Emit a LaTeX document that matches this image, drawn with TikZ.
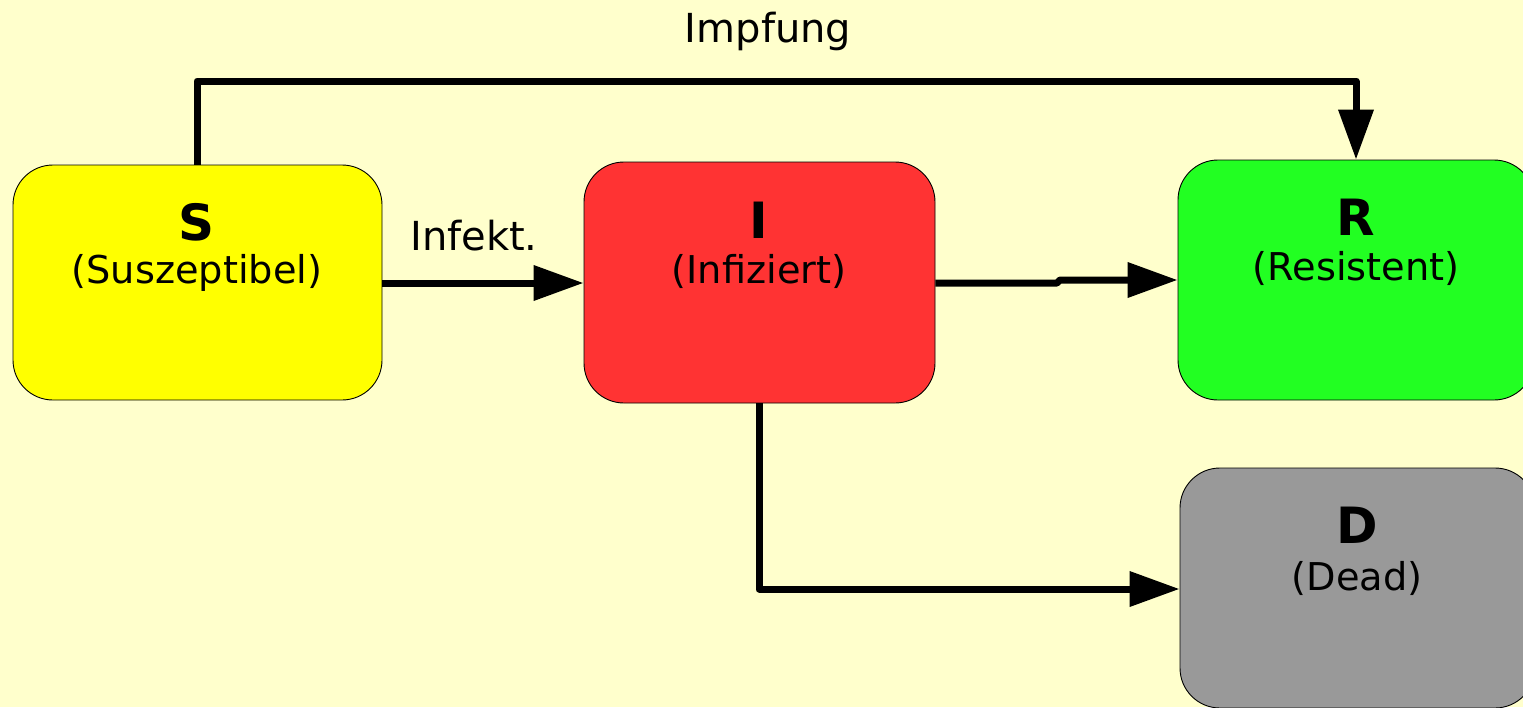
\documentclass[tikz,border=0pt]{standalone}
\usepackage{fontspec}
\setmainfont{DejaVu Sans}
\usetikzlibrary{arrows.meta,calc}
\definecolor{bg}{HTML}{FFFFCC}
\definecolor{sfill}{HTML}{FFFF00}
\definecolor{ifill}{HTML}{FF3333}
\definecolor{rfill}{HTML}{22FF22}
\definecolor{dfill}{HTML}{999999}
\tikzset{
  box/.style={draw=black, line width=0.9pt, rounded corners=40pt, inner sep=0pt},
  ttl/.style={inner sep=0pt, font=\fontsize{50}{58}\selectfont\bfseries},
  sub/.style={inner sep=0pt, font=\fontsize{38.3}{46}\selectfont},
  lbl/.style={inner sep=0pt, font=\fontsize{40}{48}\selectfont},
  conn/.style={line width=7pt, line join=round,
    -{Triangle[length=50pt,width=34pt]}},
}
\begin{document}
\begin{tikzpicture}[x=1pt,y=-1pt]
\useasboundingbox (0,0) rectangle (1523,707);
\fill[bg] (0,0) rectangle (1523,707);
\clip (0,0) rectangle (1523,707);

\node[box, fill=sfill, minimum width=369pt, minimum height=235pt] (S) at (197.5,282.5) {};
\node[box, fill=ifill, minimum width=351pt, minimum height=241pt] (I) at (759.5,282.5) {};
\node[box, fill=rfill, minimum width=356pt, minimum height=240pt] (R) at (1356,280) {};
\node[box, fill=dfill, minimum width=355pt, minimum height=240pt] (D) at (1357.5,588) {};

\node[ttl] (St) at (197,222) {S};
\node[sub] (Ss) at (197,273) {(Suszeptibel)};
\node[ttl] (It) at (759,220) {I};
\node[sub] (Is) at (759,271) {(Infiziert)};
\node[ttl] (Rt) at (1356,217) {R};
\node[sub] (Rs) at (1356,268) {(Resistent)};
\node[ttl] (Dt) at (1357,525) {D};
\node[sub] (Ds) at (1357,578) {(Dead)};

\node[lbl] (imp) at (768,31) {Impfung};
\node[lbl] (inf) at (474,236) {Infekt.};

\coordinate (a1) at (197,81);
\coordinate (a2) at (1356,81);
\draw[conn] (S.north -| a1) -- (a1) -- (a2) -- (R.north -| a2);

\draw[conn] (S.east |- 0,283) -- (I.west |- 0,283);

\coordinate (b1) at (1057,283);
\coordinate (b2) at (1060,280);
\draw[conn] (I.east |- b1) -- (b1) -- (b2) -- (R.west |- b2);

\coordinate (c1) at (759,589);
\draw[conn] (I.south -| c1) -- (c1) -- (D.west |- c1);
\end{tikzpicture}
\end{document}
